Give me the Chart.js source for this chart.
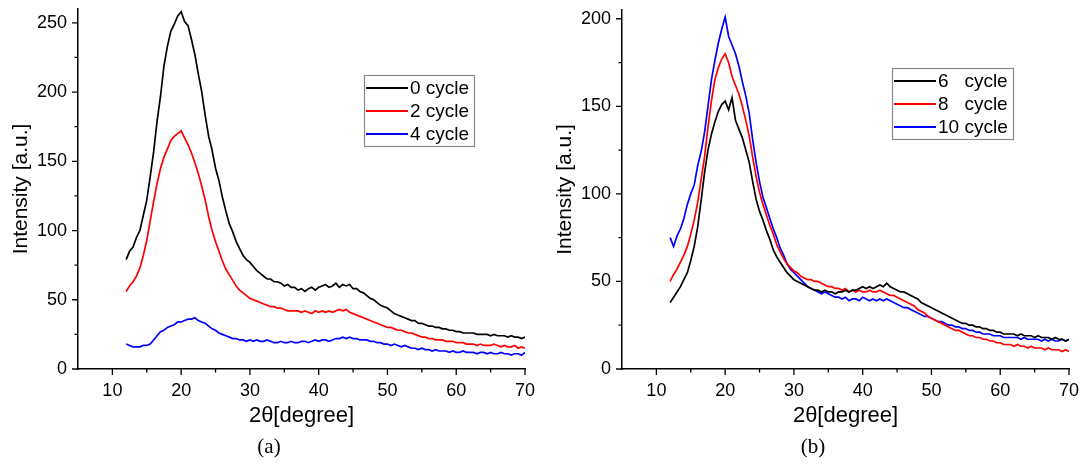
<!DOCTYPE html>
<html lang="en">
<head>
<meta charset="UTF-8">
<script src="https://cdn.jsdelivr.net/npm/chart.js"></script>
<title>XRD cycles</title>
<style>
  body { margin: 0; background: #fff; }
  .wrap { position: relative; width: 1080px; height: 464px; overflow: hidden; }
  .box { position: absolute; top: 0; width: 540px; height: 464px; }
  .cap { position: absolute; top: 434px; width: 60px; text-align: center;
         font: 21px "Liberation Serif", "Times New Roman", serif; color: #000; }
</style>
</head>
<body>
<div class="wrap">
  <div class="box" style="left:0"><canvas id="chartA"></canvas></div>
  <div class="box" style="left:540px"><canvas id="chartB"></canvas></div>
  <div class="cap" style="left:239px">(a)</div>
  <div class="cap" style="left:783px">(b)</div>
</div>
<script>
// 2theta positions, every 0.5 degree from 12 to 70
const twoTheta = [
  12, 12.5, 13, 13.5, 14, 14.5, 15, 15.5, 16, 16.5,
  17, 17.5, 18, 18.5, 19, 19.5, 20, 20.5, 21, 21.5,
  22, 22.5, 23, 23.5, 24, 24.5, 25, 25.5, 26, 26.5,
  27, 27.5, 28, 28.5, 29, 29.5, 30, 30.5, 31, 31.5,
  32, 32.5, 33, 33.5, 34, 34.5, 35, 35.5, 36, 36.5,
  37, 37.5, 38, 38.5, 39, 39.5, 40, 40.5, 41, 41.5,
  42, 42.5, 43, 43.5, 44, 44.5, 45, 45.5, 46, 46.5,
  47, 47.5, 48, 48.5, 49, 49.5, 50, 50.5, 51, 51.5,
  52, 52.5, 53, 53.5, 54, 54.5, 55, 55.5, 56, 56.5,
  57, 57.5, 58, 58.5, 59, 59.5, 60, 60.5, 61, 61.5,
  62, 62.5, 63, 63.5, 64, 64.5, 65, 65.5, 66, 66.5,
  67, 67.5, 68, 68.5, 69, 69.5, 70
];

// panel (a)
const cycle0 = [
  79, 85, 88, 95, 100, 111, 122, 139, 157, 179,
  197, 219, 233, 244, 249, 255, 258, 251, 248, 238,
  227, 213, 200, 183, 168, 158, 145, 136, 124, 114,
  105, 99, 92, 87, 82, 79, 77, 74, 71, 69,
  67, 65, 65, 63, 63, 62, 60, 61, 59, 59,
  57, 58, 56, 58, 59, 57, 59, 60, 61, 59,
  60, 62, 59, 61, 60, 61, 58, 58, 56, 55,
  53, 51, 50, 48, 46, 45, 44, 42, 40, 39,
  38, 37, 36, 35, 35, 33, 33, 32, 31, 31,
  30, 30, 29, 29, 28, 28, 27, 27, 26, 26,
  26, 26, 25, 25, 25, 25, 24, 25, 24, 24,
  24, 23, 24, 23, 23, 22, 23
];
const cycle2 = [
  56, 60, 63, 67, 73, 82, 93, 107, 121, 134,
  145, 153, 159, 165, 168, 170, 172, 167, 162, 156,
  149, 141, 132, 122, 110, 100, 92, 85, 78, 72,
  68, 64, 60, 57, 55, 53, 51, 50, 49, 48,
  47, 46, 45, 45, 44, 44, 43, 42, 42, 42,
  42, 41, 42, 41, 40, 42, 41, 42, 41, 42,
  41, 42, 43, 42, 43, 41, 40, 39, 38, 37,
  36, 35, 34, 33, 32, 31, 30, 30, 29, 28,
  28, 27, 26, 26, 25, 24, 23, 23, 22, 22,
  21, 21, 21, 20, 20, 20, 19, 19, 19, 18,
  18, 18, 17, 18, 17, 17, 17, 18, 17, 16,
  17, 16, 16, 17, 15, 16, 15
];
const cycle4 = [
  18, 17, 16, 16, 16, 17, 17, 18, 21, 24,
  27, 28, 30, 31, 32, 34, 34, 35, 36, 36,
  37, 35, 34, 33, 31, 29, 28, 26, 25, 24,
  23, 22, 22, 21, 21, 20, 21, 20, 21, 20,
  20, 21, 20, 19, 19, 20, 19, 19, 20, 19,
  19, 20, 20, 19, 20, 21, 20, 21, 21, 20,
  21, 22, 22, 23, 22, 23, 22, 22, 21, 21,
  21, 20, 20, 19, 19, 18, 18, 17, 18, 17,
  16, 17, 16, 15, 15, 14, 15, 14, 14, 13,
  14, 13, 13, 13, 12, 13, 12, 12, 13, 12,
  12, 12, 11, 12, 12, 11, 12, 11, 11, 12,
  11, 11, 10, 11, 11, 10, 12
];

// panel (b)
const cycle6 = [
  38, 41, 44, 47, 51, 55, 62, 70, 81, 96,
  112, 125, 134, 141, 147, 151, 153, 148, 155, 142,
  137, 132, 125, 118, 107, 97, 90, 85, 79, 74,
  68, 64, 61, 58, 55, 53, 51, 50, 49, 48,
  47, 46, 45, 45, 44, 45, 44, 44, 43, 44,
  44, 45, 44, 45, 45, 46, 47, 46, 47, 46,
  47, 48, 47, 49, 47, 46, 45, 44, 44, 43,
  42, 41, 40, 38, 37, 36, 35, 34, 33, 32,
  31, 30, 29, 28, 27, 26, 26, 25, 25, 24,
  24, 23, 23, 22, 22, 21, 21, 20, 20, 20,
  20, 19, 20, 19, 19, 19, 18, 19, 18, 18,
  18, 17, 18, 17, 17, 16, 17
];
const cycle8 = [
  50, 54, 57, 61, 65, 70, 77, 85, 95, 108,
  121, 138, 153, 165, 172, 177, 180, 175, 167, 162,
  157, 150, 142, 133, 121, 110, 101, 94, 88, 82,
  77, 71, 67, 63, 60, 58, 56, 55, 53, 52,
  51, 51, 50, 50, 49, 48, 47, 47, 46, 46,
  45, 46, 44, 45, 44, 45, 44, 44, 45, 44,
  44, 45, 44, 43, 42, 42, 41, 40, 39, 38,
  37, 36, 34, 33, 32, 30, 29, 28, 27, 26,
  25, 24, 23, 22, 22, 21, 20, 19, 19, 18,
  18, 17, 17, 16, 16, 15, 15, 14, 14, 14,
  13, 14, 13, 13, 12, 13, 12, 12, 12, 11,
  12, 11, 11, 11, 10, 11, 10
];
const cycle10 = [
  75, 70, 76, 80, 86, 94, 100, 105, 116, 124,
  135, 150, 165, 176, 186, 194, 201, 190, 185, 180,
  173, 164, 156, 146, 131, 118, 107, 98, 92, 86,
  80, 75, 69, 65, 60, 57, 55, 53, 51, 49,
  47, 46, 45, 44, 43, 44, 43, 42, 41, 41,
  40, 41, 39, 40, 40, 39, 41, 40, 39, 40,
  39, 40, 39, 40, 39, 38, 37, 36, 35, 35,
  34, 33, 32, 31, 30, 30, 29, 28, 27, 27,
  26, 25, 25, 24, 24, 23, 23, 22, 22, 21,
  21, 20, 20, 20, 19, 19, 19, 18, 18, 18,
  18, 18, 17, 18, 17, 17, 17, 17, 16, 17,
  16, 17, 16, 16, 17, 16, 17
];

// tick labels
const xTicks = [10, 20, 30, 40, 50, 60, 70];
const xMinor = [15, 25, 35, 45, 55, 65];
const yTicksA = [0, 50, 100, 150, 200, 250];
const yMinorA = [25, 75, 125, 175, 225];
const yTicksB = [0, 50, 100, 150, 200];
const yMinorB = [25, 75, 125, 175];

const FONT = '"Liberation Sans", Arial, sans-serif';

function pts(ys) {
  return twoTheta.map((x, i) => ({ x: x, y: ys[i] }));
}

// draws the outward tick marks and the boxed legend inside the plot
const extras = {
  id: 'extras',
  afterDraw(chart, args, opts) {
    const ctx = chart.ctx;
    const a = chart.chartArea;
    const sx = chart.scales.x, sy = chart.scales.y;
    ctx.save();
    ctx.strokeStyle = '#000';
    ctx.lineWidth = 1.3;
    ctx.beginPath();
    xTicks.forEach(v => { const p = sx.getPixelForValue(v); ctx.moveTo(p, a.bottom); ctx.lineTo(p, a.bottom + 6); });
    xMinor.forEach(v => { const p = sx.getPixelForValue(v); ctx.moveTo(p, a.bottom); ctx.lineTo(p, a.bottom + 3.5); });
    opts.yMajor.forEach(v => { const p = sy.getPixelForValue(v); ctx.moveTo(a.left, p); ctx.lineTo(a.left - 6, p); });
    opts.yMinor.forEach(v => { const p = sy.getPixelForValue(v); ctx.moveTo(a.left, p); ctx.lineTo(a.left - 3.5, p); });
    ctx.stroke();

    // legend
    const L = opts.legend;
    ctx.fillStyle = '#fff';
    ctx.fillRect(L.x, L.y, L.w, L.h);
    ctx.strokeStyle = '#8a8a8a';
    ctx.lineWidth = 1.2;
    ctx.strokeRect(L.x + 0.5, L.y + 0.5, L.w, L.h);
    ctx.font = '19px ' + FONT;
    ctx.textBaseline = 'middle';
    ctx.fillStyle = '#000';
    chart.data.datasets.forEach((ds, i) => {
      const yy = L.y + 13 + i * 23;
      ctx.strokeStyle = ds.borderColor;
      ctx.lineWidth = 2;
      ctx.beginPath();
      ctx.moveTo(L.x + 2, yy);
      ctx.lineTo(L.x + 44, yy);
      ctx.stroke();
      ctx.fillText(ds.label, L.x + 46, yy + 1);
    });
    ctx.restore();
  }
};

function makeChart(id, sets, yMax, yMajor, yMinor, yWidth, padRight, padTop, yTitlePad, legend) {
  const cfg = {
    type: 'line',
    data: {
      datasets: sets.map(s => ({
        label: s.label,
        data: pts(s.values),
        borderColor: s.color,
        borderWidth: 1.7,
        pointRadius: 0,
        tension: 0,
        fill: false
      }))
    },
    options: {
      responsive: true,
      maintainAspectRatio: false,
      animation: false,
      layout: { padding: { top: padTop, right: padRight, left: 0, bottom: 0 } },
      plugins: {
        legend: { display: false },
        tooltip: { enabled: false },
        extras: { yMajor: yMajor, yMinor: yMinor, legend: legend }
      },
      scales: {
        x: {
          type: 'linear',
          min: 5,
          max: 70,
          afterBuildTicks: s => { s.ticks = xTicks.map(v => ({ value: v })); },
          afterFit: s => { s.height = 95; s.paddingLeft = 0; s.paddingRight = 0; },
          grid: { display: false, drawTicks: false },
          border: { display: true, color: '#000', width: 1.5 },
          ticks: { color: '#000', padding: 11, maxRotation: 0, font: { family: FONT, size: 18 } },
          title: {
            display: true, text: '2θ[degree]', color: '#000',
            padding: { top: 0, bottom: 35 },
            font: { family: FONT, size: 22 }
          }
        },
        y: {
          min: 0,
          max: yMax,
          afterBuildTicks: s => { s.ticks = yMajor.map(v => ({ value: v })); },
          afterFit: s => { s.width = yWidth; s.paddingTop = 0; s.paddingBottom = 0; },
          grid: { display: false, drawTicks: false },
          border: { display: true, color: '#000', width: 1.5 },
          ticks: { color: '#000', padding: 11, font: { family: FONT, size: 18 } },
          title: {
            display: true, text: 'Intensity [a.u.]', color: '#000',
            padding: { top: yTitlePad, bottom: 0 },
            font: { family: FONT, size: 21 }
          }
        }
      }
    },
    plugins: [extras]
  };
  return new Chart(document.getElementById(id), cfg);
}

makeChart('chartA', [
  { label: '0 cycle', values: cycle0, color: '#000000' },
  { label: '2 cycle', values: cycle2, color: '#ff0000' },
  { label: '4 cycle', values: cycle4, color: '#0000ff' }
], 260, yTicksA, yMinorA, 78, 15, 9, 9, { x: 364, y: 75, w: 110, h: 71 });

makeChart('chartB', [
  { label: '6   cycle', values: cycle6, color: '#000000' },
  { label: '8   cycle', values: cycle8, color: '#ff0000' },
  { label: '10 cycle', values: cycle10, color: '#0000ff' }
], 205, yTicksB, yMinorB, 82, 11, 10, 13, { x: 352, y: 68, w: 121, h: 71 });
</script>
</body>
</html>
